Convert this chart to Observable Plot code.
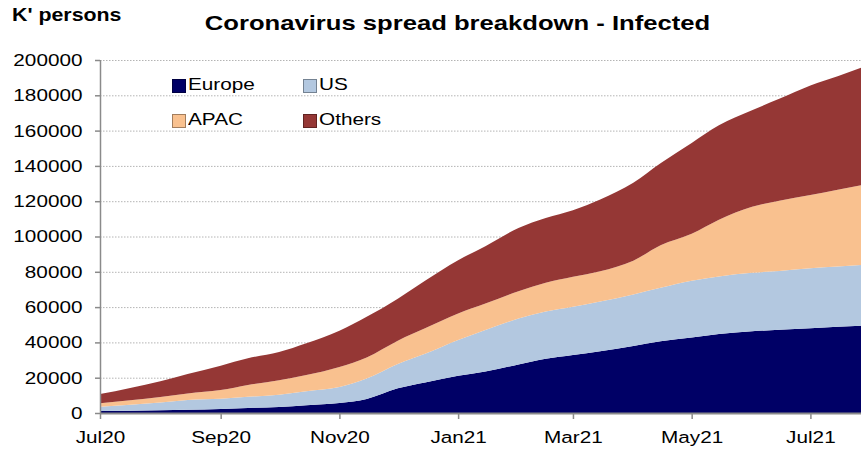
<!DOCTYPE html>
<html><head><meta charset="utf-8">
<script src="https://cdn.jsdelivr.net/npm/d3@7"></script>
<script src="https://cdn.jsdelivr.net/npm/@observablehq/plot@0.6"></script>
<style>
body{margin:0;background:#fff;}
#wrap{position:relative;width:861px;height:451px;font-family:"Liberation Sans",Arial,sans-serif;overflow:hidden;}
#wrap svg{position:absolute;left:0;top:0;}
.lbl{position:absolute;white-space:nowrap;color:#000;}
.title{top:11px;font-size:21px;font-weight:bold;text-align:center;transform:scaleX(1.22);transform-origin:0 0;}
.unit{left:12px;top:5px;font-size:17.5px;font-weight:bold;transform:scaleX(1.22);transform-origin:0 0;}
.leg{position:absolute;font-size:17px;white-space:nowrap;}
.leg .sw{position:absolute;width:12px;height:12px;border:1px solid rgba(0,0,0,0.35);}
.leg .tx{position:absolute;left:16px;top:-4px;transform:scaleX(1.22);transform-origin:0 0;}
</style></head><body><div id="wrap"></div>
<script>
// ---- data (K' persons) ----
const dates = ["2020-07-01","2020-08-01","2020-08-15","2020-09-01","2020-09-15","2020-10-01","2020-10-15",
  "2020-11-01","2020-11-15","2020-12-01","2020-12-15","2021-01-01","2021-01-15","2021-02-01","2021-02-15",
  "2021-03-01","2021-03-15","2021-04-01","2021-04-15","2021-05-01","2021-05-15","2021-06-01","2021-06-15",
  "2021-07-01","2021-07-15","2021-07-27"];
const europe = [1100,1600,1900,2300,2800,3400,4400,5700,8000,14000,17300,21100,23500,27500,30800,
  32900,35000,38000,40600,42800,44800,46300,47200,48000,48800,49500];
const us = [2500,4300,5500,5800,6400,6900,7900,9000,11500,13800,16200,20200,23500,26000,26700,
  27300,28200,29200,30400,32200,32600,33100,33300,34000,34200,34300];
const apac = [1900,3100,3700,4900,6700,8200,9200,11400,12000,13200,14500,15100,15000,15500,16300,
  17000,17100,19100,24000,26500,32100,37400,39800,41500,43500,45200];
const others = [5200,9000,11000,13800,15100,16000,18000,20500,23000,23800,27000,30200,32500,35800,36700,
  37700,40700,44200,46500,51500,53500,54700,57700,62100,64300,66600];

const seriesNames = ["Europe","US","APAC","Others"];
const seriesColors = ["#000066","#B3C8E0","#F9C18F","#953735"];
const yTicks = [0,20000,40000,60000,80000,100000,120000,140000,160000,180000,200000];
const xTickDates = ["2020-07-01","2020-09-01","2020-11-01","2021-01-01","2021-03-01","2021-05-01","2021-07-01"];
const xTickLabels = ["Jul20","Sep20","Nov20","Jan21","Mar21","May21","Jul21"];
const titleText = "Coronavirus spread breakdown - Infected";
const unitText = "K' persons";

// ---- build table ----
const seriesValues = [europe, us, apac, others];
const rows = [];
dates.forEach((d, i) => {
  seriesNames.forEach((name, k) => rows.push({date: new Date(d), region: name, value: seriesValues[k][i]}));
});
const xDomain = [new Date("2020-07-01"), new Date("2021-07-27")];
const xTicks = xTickDates.map(d => new Date(d));

const chart = Plot.plot({
  width: 861, height: 451,
  marginTop: 60, marginBottom: 38, marginLeft: 100, marginRight: 0,
  style: {fontFamily: "Liberation Sans, Arial, sans-serif", fontSize: "17px", color: "#000", background: "transparent", overflow: "visible"},
  x: {type: "utc", domain: xDomain, axis: null, label: null},
  y: {domain: [0, 200000], axis: null, label: null},
  color: {domain: seriesNames, range: seriesColors},
  marks: [
    Plot.gridY(yTicks.filter(d => d > 0), {stroke: "#b4b4b4", strokeOpacity: 1, strokeDasharray: "1.5,1.5"}),
    Plot.areaY(rows, {x: "date", y: "value", z: "region", fill: "region", curve: "monotone-x"}),
    Plot.ruleY([0], {stroke: "#8a8a8a", strokeWidth: 2}),
    Plot.ruleX([xDomain[0]], {stroke: "#8a8a8a", strokeWidth: 1.5}),
    Plot.axisY({ticks: yTicks, label: null, tickSize: 5, tickPadding: 13, tickFormat: d3.format("d"), stroke: "#8a8a8a", strokeWidth: 1.5, fontSize: 17}),
    Plot.axisX({ticks: xTicks, label: null, tickSize: 6, tickPadding: 11, tickFormat: d => xTickLabels[xTicks.findIndex(t => +t === +d)], stroke: "#8a8a8a", strokeWidth: 1.5, fontSize: 17})
  ]
});

const wrap = document.getElementById("wrap");
wrap.appendChild(chart);

// widen the text glyphs horizontally (about their anchor) like the reference
Array.from(chart.querySelectorAll("text")).forEach(t => {
  try {
    const parent = t.parentNode;
    const m = parent.getCTM().inverse().multiply(t.getCTM());
    const b = t.getBBox();
    const anchor = getComputedStyle(t).textAnchor;
    const lx = anchor === "end" ? b.x + b.width : anchor === "middle" ? b.x + b.width / 2 : b.x;
    const ly = b.y + b.height / 2;
    const px = m.a * lx + m.c * ly + m.e, py = m.b * lx + m.d * ly + m.f;
    const g = document.createElementNS("http://www.w3.org/2000/svg", "g");
    g.setAttribute("transform", `translate(${px},${py}) scale(1.22,1) translate(${-px},${-py})`);
    parent.insertBefore(g, t);
    g.appendChild(t);
  } catch (e) {}
});

const title = document.createElement("div");
title.className = "lbl title"; title.style.width = (861 / 1.22) + "px"; title.style.left = "27px";
title.textContent = titleText; wrap.appendChild(title);
const unit = document.createElement("div");
unit.className = "lbl unit"; unit.textContent = unitText; wrap.appendChild(unit);

const legPos = [[172, 79], [303, 79], [172, 114], [303, 114]];
seriesNames.forEach((name, k) => {
  const g = document.createElement("div");
  g.className = "leg";
  g.style.left = legPos[k][0] + "px"; g.style.top = legPos[k][1] + "px";
  g.innerHTML = `<div class="sw" style="background:${seriesColors[k]}"></div><div class="tx">${name}</div>`;
  wrap.appendChild(g);
});
</script>
</body></html>
